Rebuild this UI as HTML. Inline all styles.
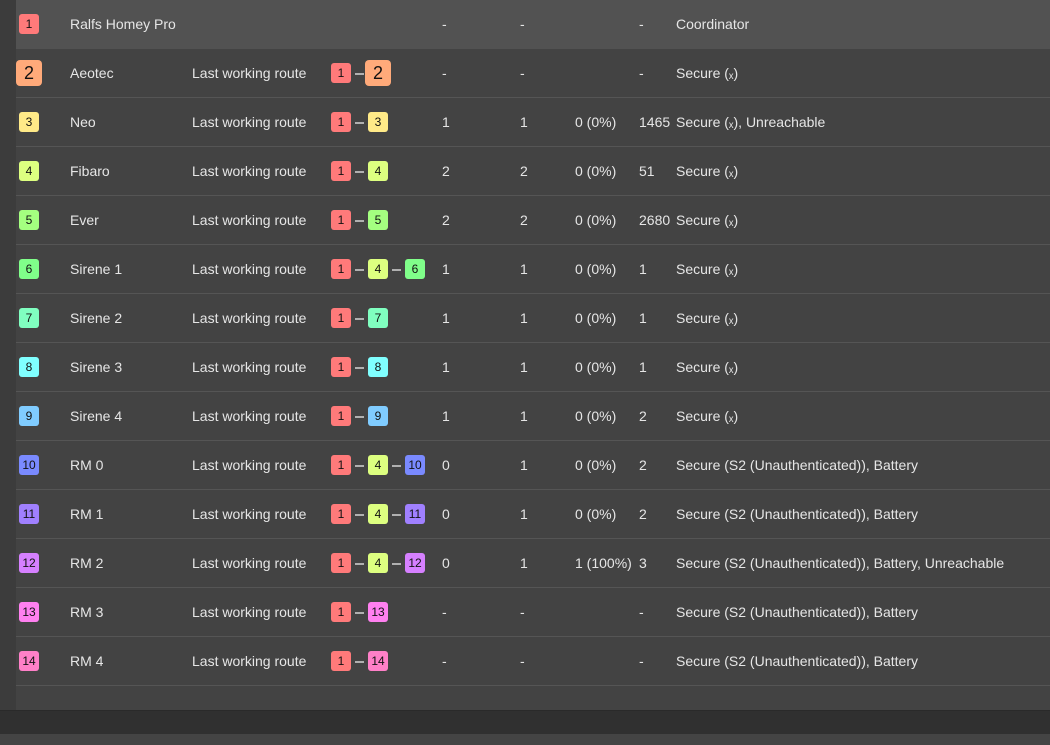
<!DOCTYPE html>
<html><head><meta charset="utf-8"><style>
body{margin:0;width:1050px;height:745px;background:#444;font-family:"Liberation Sans",sans-serif;font-size:14px;color:#e6e6e6;position:relative;overflow:hidden}
.strip{position:absolute;left:0;top:0;width:16px;height:710px;background:#3c3c3c}
.panel{position:absolute;left:16px;top:0;width:1034px;height:710px;background:#434343}
.bar{position:absolute;left:0;top:710px;width:1050px;height:23px;background:#303030;border-top:1px solid #2a2a2a}
.row{position:absolute;left:16px;width:1034px;height:48px;border-bottom:1px solid #555}
.row.first{background:#525252;border-bottom:none;height:49px}
.row span{position:absolute;top:0;line-height:49px;white-space:nowrap}
.b{position:absolute;width:20px;height:20px;border-radius:3px;color:#111;font-size:12px;text-align:center;line-height:21px;top:14px}
.big{width:26px;height:26px;line-height:27px;font-size:18px;top:11px;border-radius:4px}
.d{position:absolute;top:24px;width:9px;height:2px;background:#b0b0b0}
.c1{background:#ff7a7a}.c2{background:#ffaa7a}.c3{background:#ffea88}.c4{background:#ddff80}.c5{background:#a4ff80}.c6{background:#80ff8a}.c7{background:#80ffc0}.c8{background:#80ffff}.c9{background:#80ccff}.c10{background:#7a8aff}.c11{background:#a080ff}.c12{background:#d680ff}.c13{background:#ff80f0}.c14{background:#ff80c8}
.n{left:54px}.r{left:176px}.a{left:426px}.e{left:504px}.f{left:559px}.g{left:623px}.h{left:660px}
</style></head><body>
<div class="strip"></div><div class="panel"></div><div class="bar"></div>

<div class="row first" style="top:0"><div class="b c1" style="left:3px">1</div><span class="n">Ralfs Homey Pro</span><span class="a">-</span><span class="e">-</span><span class="g">-</span><span class="h">Coordinator</span></div>

<div class="row" style="top:49px"><div class="b c2 big" style="left:0">2</div><span class="n">Aeotec</span><span class="r">Last working route</span><div class="b c1" style="left:315px">1</div><div class="d" style="left:339px"></div><div class="b c2 big" style="left:349px">2</div><span class="a">-</span><span class="e">-</span><span class="g">-</span><span class="h">Secure (ₓ)</span></div>

<div class="row" style="top:98px"><div class="b c3" style="left:3px">3</div><span class="n">Neo</span><span class="r">Last working route</span><div class="b c1" style="left:315px">1</div><div class="d" style="left:339px"></div><div class="b c3" style="left:352px">3</div><span class="a">1</span><span class="e">1</span><span class="f">0 (0%)</span><span class="g">1465</span><span class="h">Secure (ₓ), Unreachable</span></div>

<div class="row" style="top:147px"><div class="b c4" style="left:3px">4</div><span class="n">Fibaro</span><span class="r">Last working route</span><div class="b c1" style="left:315px">1</div><div class="d" style="left:339px"></div><div class="b c4" style="left:352px">4</div><span class="a">2</span><span class="e">2</span><span class="f">0 (0%)</span><span class="g">51</span><span class="h">Secure (ₓ)</span></div>

<div class="row" style="top:196px"><div class="b c5" style="left:3px">5</div><span class="n">Ever</span><span class="r">Last working route</span><div class="b c1" style="left:315px">1</div><div class="d" style="left:339px"></div><div class="b c5" style="left:352px">5</div><span class="a">2</span><span class="e">2</span><span class="f">0 (0%)</span><span class="g">2680</span><span class="h">Secure (ₓ)</span></div>

<div class="row" style="top:245px"><div class="b c6" style="left:3px">6</div><span class="n">Sirene 1</span><span class="r">Last working route</span><div class="b c1" style="left:315px">1</div><div class="d" style="left:339px"></div><div class="b c4" style="left:352px">4</div><div class="d" style="left:376px"></div><div class="b c6" style="left:389px">6</div><span class="a">1</span><span class="e">1</span><span class="f">0 (0%)</span><span class="g">1</span><span class="h">Secure (ₓ)</span></div>

<div class="row" style="top:294px"><div class="b c7" style="left:3px">7</div><span class="n">Sirene 2</span><span class="r">Last working route</span><div class="b c1" style="left:315px">1</div><div class="d" style="left:339px"></div><div class="b c7" style="left:352px">7</div><span class="a">1</span><span class="e">1</span><span class="f">0 (0%)</span><span class="g">1</span><span class="h">Secure (ₓ)</span></div>

<div class="row" style="top:343px"><div class="b c8" style="left:3px">8</div><span class="n">Sirene 3</span><span class="r">Last working route</span><div class="b c1" style="left:315px">1</div><div class="d" style="left:339px"></div><div class="b c8" style="left:352px">8</div><span class="a">1</span><span class="e">1</span><span class="f">0 (0%)</span><span class="g">1</span><span class="h">Secure (ₓ)</span></div>

<div class="row" style="top:392px"><div class="b c9" style="left:3px">9</div><span class="n">Sirene 4</span><span class="r">Last working route</span><div class="b c1" style="left:315px">1</div><div class="d" style="left:339px"></div><div class="b c9" style="left:352px">9</div><span class="a">1</span><span class="e">1</span><span class="f">0 (0%)</span><span class="g">2</span><span class="h">Secure (ₓ)</span></div>

<div class="row" style="top:441px"><div class="b c10" style="left:3px">10</div><span class="n">RM 0</span><span class="r">Last working route</span><div class="b c1" style="left:315px">1</div><div class="d" style="left:339px"></div><div class="b c4" style="left:352px">4</div><div class="d" style="left:376px"></div><div class="b c10" style="left:389px">10</div><span class="a">0</span><span class="e">1</span><span class="f">0 (0%)</span><span class="g">2</span><span class="h">Secure (S2 (Unauthenticated)), Battery</span></div>

<div class="row" style="top:490px"><div class="b c11" style="left:3px">11</div><span class="n">RM 1</span><span class="r">Last working route</span><div class="b c1" style="left:315px">1</div><div class="d" style="left:339px"></div><div class="b c4" style="left:352px">4</div><div class="d" style="left:376px"></div><div class="b c11" style="left:389px">11</div><span class="a">0</span><span class="e">1</span><span class="f">0 (0%)</span><span class="g">2</span><span class="h">Secure (S2 (Unauthenticated)), Battery</span></div>

<div class="row" style="top:539px"><div class="b c12" style="left:3px">12</div><span class="n">RM 2</span><span class="r">Last working route</span><div class="b c1" style="left:315px">1</div><div class="d" style="left:339px"></div><div class="b c4" style="left:352px">4</div><div class="d" style="left:376px"></div><div class="b c12" style="left:389px">12</div><span class="a">0</span><span class="e">1</span><span class="f">1 (100%)</span><span class="g">3</span><span class="h">Secure (S2 (Unauthenticated)), Battery, Unreachable</span></div>

<div class="row" style="top:588px"><div class="b c13" style="left:3px">13</div><span class="n">RM 3</span><span class="r">Last working route</span><div class="b c1" style="left:315px">1</div><div class="d" style="left:339px"></div><div class="b c13" style="left:352px">13</div><span class="a">-</span><span class="e">-</span><span class="g">-</span><span class="h">Secure (S2 (Unauthenticated)), Battery</span></div>

<div class="row" style="top:637px"><div class="b c14" style="left:3px">14</div><span class="n">RM 4</span><span class="r">Last working route</span><div class="b c1" style="left:315px">1</div><div class="d" style="left:339px"></div><div class="b c14" style="left:352px">14</div><span class="a">-</span><span class="e">-</span><span class="g">-</span><span class="h">Secure (S2 (Unauthenticated)), Battery</span></div>
</body></html>
